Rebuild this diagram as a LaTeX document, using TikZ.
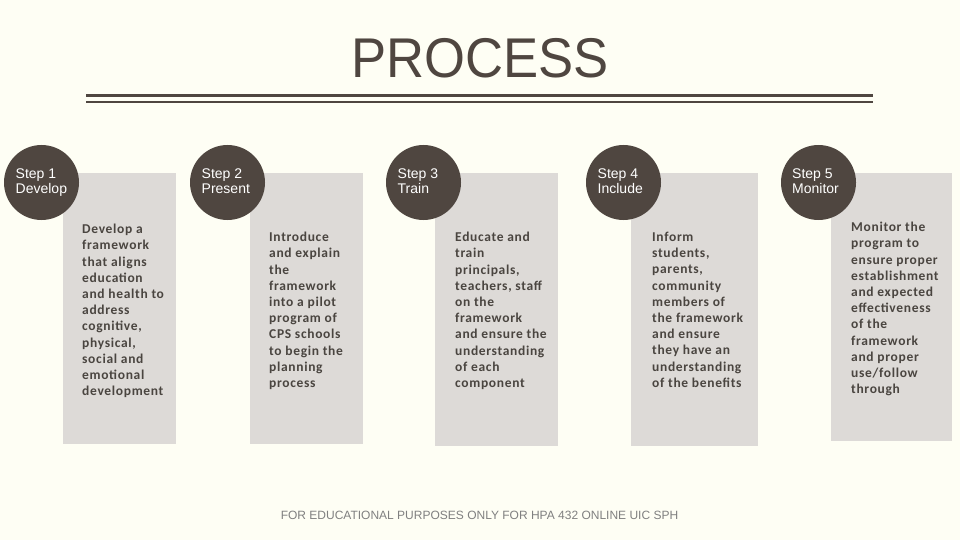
\documentclass[tikz,border=0pt]{standalone}
\usepackage{fontspec}
\setmainfont{Liberation Sans}
\newfontfamily\bodyfont[LetterSpace=5]{Carlito}
\definecolor{bgc}{HTML}{FEFEF4}
\definecolor{darkc}{HTML}{4F4640}
\definecolor{boxc}{HTML}{DDDAD7}
\definecolor{txtc}{HTML}{4A4540}
\definecolor{footc}{HTML}{808080}
\tikzset{
  stepcircle/.style={circle, fill=darkc, draw=none, minimum size=75pt, inner sep=0pt},
  steplabel/.style={anchor=north west, inner sep=0pt, align=left, text=white, font=\fontsize{14}{15}\selectfont},
  descbox/.style={fill=boxc, draw=none},
  desctext/.style={anchor=north west, inner sep=0pt, align=left, text=txtc, font=\bodyfont\bfseries\fontsize{13.5}{16.2}\selectfont},
}
\begin{document}
\begin{tikzpicture}[x=1pt,y=-1pt]
\fill[bgc] (0,0) rectangle (960,540);
\useasboundingbox (0,0) rectangle (960,540);
% title
\node[text=darkc, font=\fontsize{56}{60}\selectfont, xscale=0.94, anchor=base] (title) at (480,77.7) {PROCESS};
\fill[darkc] (86,94) rectangle (873,97.5);
\fill[darkc] (86,101.2) rectangle (873,102.9);
% boxes
\fill[descbox] (63,173) rectangle (176,444);
\fill[descbox] (250,173) rectangle (363,444);
\fill[descbox] (435,173) rectangle (558,446);
\fill[descbox] (631,173) rectangle (758,446);
\fill[descbox] (831,173) rectangle (952,441);
\node[desctext] (t1) at (82,224) {Develop a\\framework\\that aligns\\education\\and health to\\address\\cognitive,\\physical,\\social and\\emotional\\development};
\node[desctext] (t2) at (269,232) {Introduce\\and explain\\the\\framework\\into a pilot\\program of\\CPS schools\\to begin the\\planning\\process};
\node[desctext] (t3) at (455,232) {Educate and\\train\\principals,\\teachers, staff\\on the\\framework\\and ensure the\\understanding\\of each\\component};
\node[desctext] (t4) at (652,232) {Inform\\students,\\parents,\\community\\members of\\the framework\\and ensure\\they have an\\understanding\\of the benefits};
\node[desctext] (t5) at (851,222) {Monitor the\\program to\\ensure proper\\establishment\\and expected\\effectiveness\\of the\\framework\\and proper\\use/follow\\through};
% circles
\node[stepcircle] (c1) at (41.5,182.5) {};
\node[stepcircle] (c2) at (227.5,182.5) {};
\node[stepcircle] (c3) at (423.5,182.5) {};
\node[stepcircle] (c4) at (623.5,182.5) {};
\node[stepcircle] (c5) at (818.5,182.5) {};
\node[steplabel] (s1) at (15.5,168.5) {Step 1\\Develop};
\node[steplabel] (s2) at (201.5,168.5) {Step 2\\Present};
\node[steplabel] (s3) at (397.5,168.5) {Step 3\\Train};
\node[steplabel] (s4) at (597.5,168.5) {Step 4\\Include};
\node[steplabel] (s5) at (792,168.5) {Step 5\\Monitor};
% footer
\node[text=footc, font=\fontsize{12}{14}\selectfont] (foot) at (479.5,515) {FOR EDUCATIONAL PURPOSES ONLY FOR HPA 432 ONLINE UIC SPH};
\end{tikzpicture}
\end{document}
